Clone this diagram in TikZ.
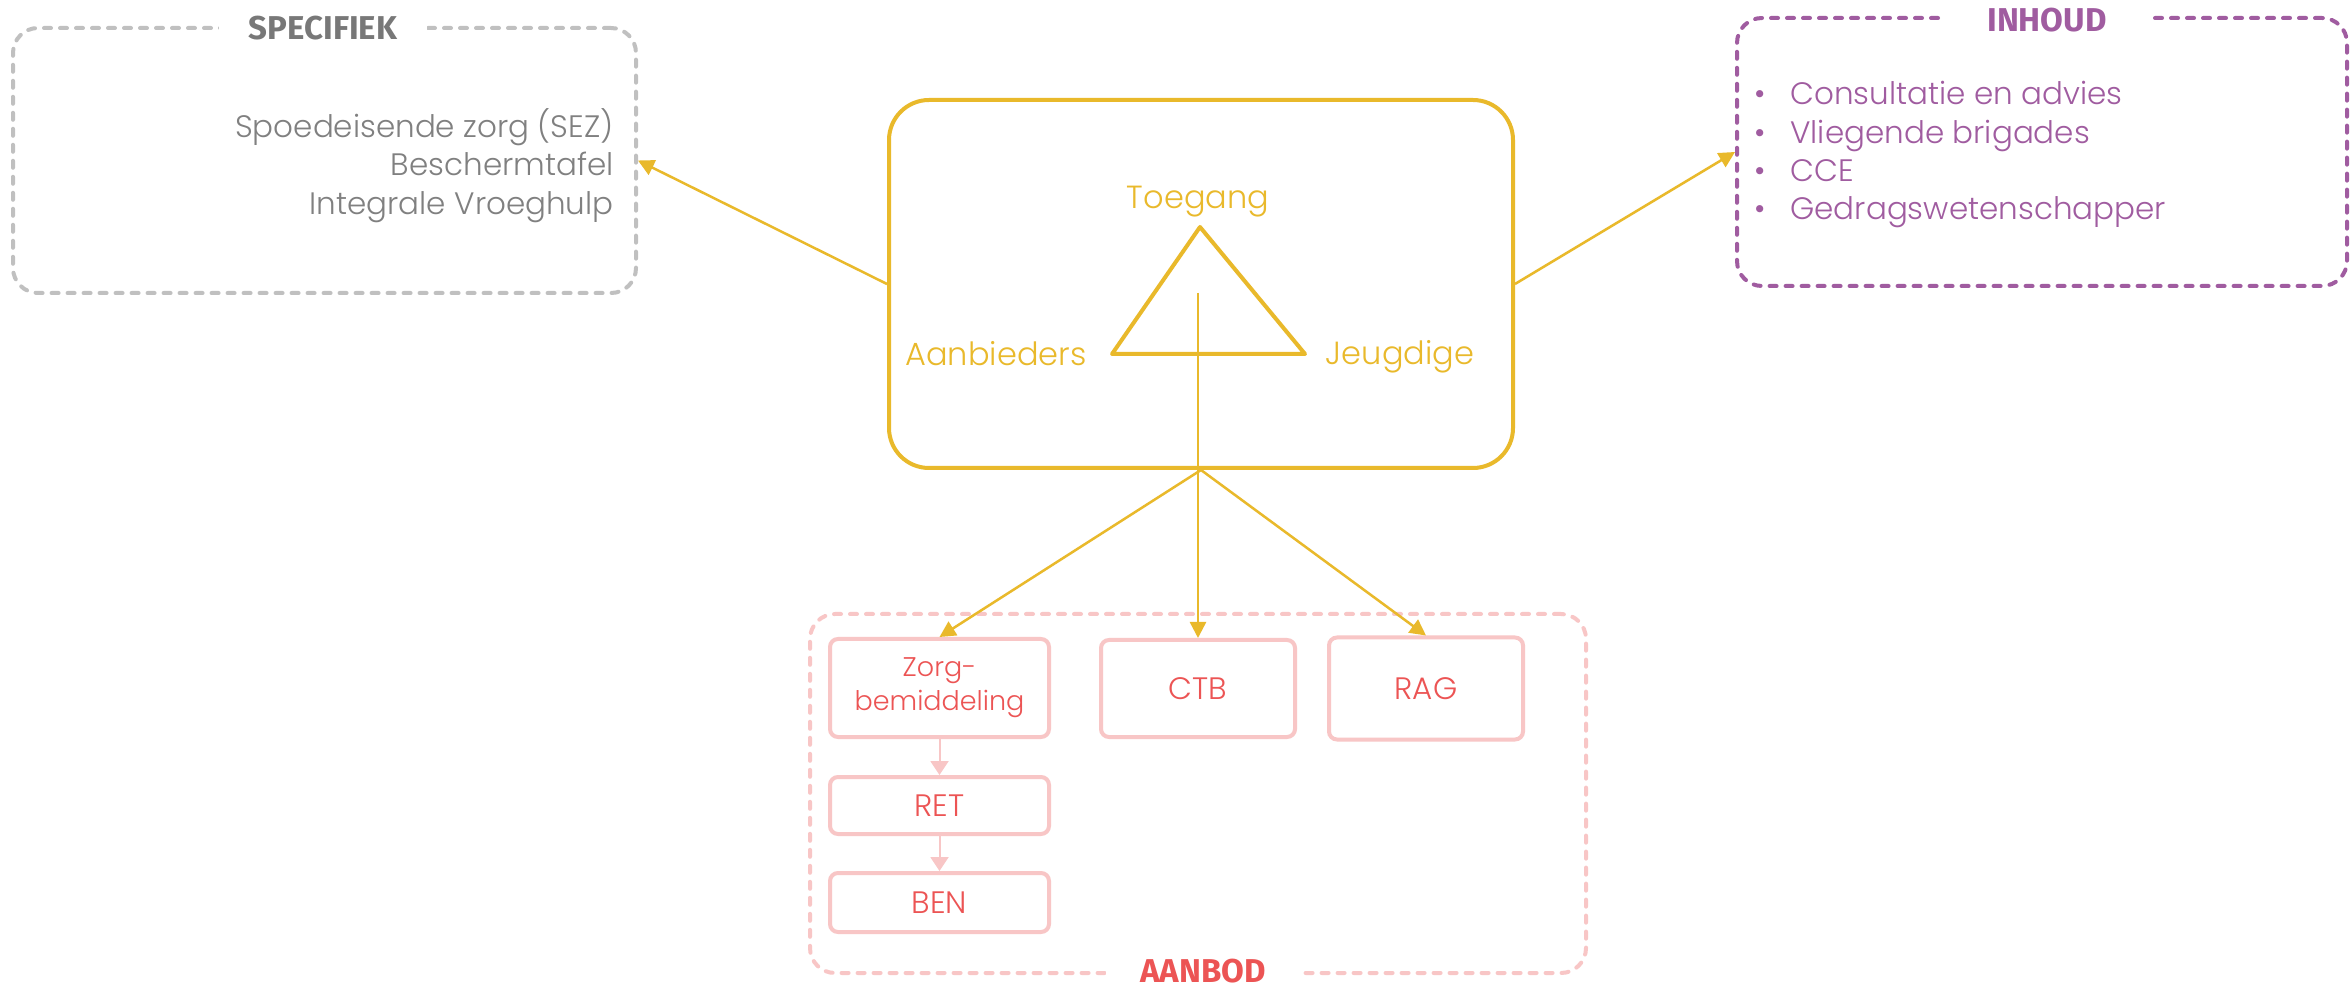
\documentclass[tikz,border=0pt]{standalone}
\usepackage{fontspec}
\setmainfont{Poppins}[UprightFont=* Light]
\newfontfamily\titelfont{Fira Sans}
\usetikzlibrary{arrows.meta}

\definecolor{goud}{RGB}{233,185,43}
\definecolor{paars}{RGB}{160,92,160}
\definecolor{grijslijn}{RGB}{192,192,192}
\definecolor{grijstekst}{RGB}{128,128,128}
\definecolor{grijstitel}{RGB}{120,120,120}
\definecolor{roze}{RGB}{248,198,198}
\definecolor{rood}{RGB}{236,84,84}

\tikzset{
    kader/.style = {line width=2pt, rounded corners=12.5pt, dash pattern=on 3.5pt off 4.5pt, line cap=round, inner sep=0pt},
    titel/.style = {fill=white, inner xsep=0pt, inner ysep=0.5pt, font=\titelfont\bfseries\fontsize{16.5}{19}\selectfont},
    tekst/.style = {inner sep=0pt, font=\fontsize{15.5}{19.2}\selectfont},
    label/.style = {inner sep=0pt, text=goud, font=\fontsize{16}{19}\selectfont},
    blok/.style = {draw=roze, line width=2pt, rounded corners=4pt, inner sep=0pt, text=rood, font=\fontsize{15.5}{19}\selectfont},
    pijl/.style = {goud, line width=1.25pt, -{Triangle[length=8pt, width=8pt]}},
    rozepijl/.style = {roze, line width=1pt, -{Triangle[length=7pt, width=9pt]}}
}

\begin{document}
\begin{tikzpicture}[x=0.5pt, y=-0.5pt]
    \useasboundingbox[fill=white] (0, 0) rectangle (2351, 988);

    \node[kader, draw=grijslijn, minimum width=311.5pt, minimum height=132.5pt] (specifiek) at (324.5, 160.5) {};
    \node[titel, text=grijstitel, minimum width=104pt] (specifiektitel) at (323, 28) {SPECIFIEK};
    \node[tekst, text=grijstekst, align=right, anchor=north east] (specifiektekst) at (614, 108) {Spoedeisende zorg (SEZ)\\Beschermtafel\\Integrale Vroeghulp};

    \node[kader, draw=paars, minimum width=305pt, minimum height=134pt] (inhoud) at (2042, 152) {};
    \node[titel, text=paars, minimum width=104pt] (inhoudtitel) at (2047, 20) {INHOUD};
    \node[tekst, text=paars, align=left, anchor=north west] (inhoudtekst) at (1754, 81) {\makebox[18pt][l]{•}Consultatie en advies\\\makebox[18pt][l]{•}Vliegende brigades\\\makebox[18pt][l]{•}CCE\\\makebox[18pt][l]{•}Gedragswetenschapper};

    \node[draw=goud, line width=2pt, rounded corners=20pt, minimum width=312pt, minimum height=184pt] (toegang) at (1201, 284) {};
    \draw[goud, line width=2pt, line join=round] (1200, 227) -- (1305, 354) -- (1112, 354) -- cycle;
    \node[label, anchor=base] (toeganglabel) at (1198, 209) {Toegang};
    \node[label, anchor=base] (aanbieders) at (996, 366) {Aanbieders};
    \node[label, anchor=base] (jeugdige) at (1400, 365) {Jeugdige};

    \node[kader, draw=roze, minimum width=388pt, minimum height=179.5pt] (aanbod) at (1198, 793.5) {};
    \node[titel, text=rood, minimum width=97pt] (aanbodtitel) at (1203, 971) {AANBOD};

    \node[blok, minimum width=109.5pt, minimum height=49pt, align=center, font=\fontsize{13.5}{17}\selectfont] (zorg) at (939.5, 688) {Zorg-\\bemiddeling};
    \node[blok, minimum width=97pt, minimum height=48.5pt] (ctb) at (1198, 688.5) {CTB};
    \node[blok, minimum width=97pt, minimum height=51pt] (rag) at (1426, 688.5) {RAG};
    \node[blok, minimum width=109.5pt, minimum height=28.5pt] (ret) at (939.5, 805.5) {RET};
    \node[blok, minimum width=109.5pt, minimum height=29.5pt] (ben) at (939.5, 902.5) {BEN};

    \coordinate (stam) at (1198, 293);
    \draw[pijl] (toegang.west) -- (specifiek.east);
    \draw[pijl] (toegang.east) -- (inhoud.west);
    \draw[pijl] (stam) -- (ctb.north);
    \draw[pijl] (toegang.south) -- (zorg.north);
    \draw[pijl] (toegang.south) -- (rag.north);
    \draw[rozepijl] (zorg.south) -- (ret.north);
    \draw[rozepijl] (ret.south) -- (ben.north);
\end{tikzpicture}
\end{document}
